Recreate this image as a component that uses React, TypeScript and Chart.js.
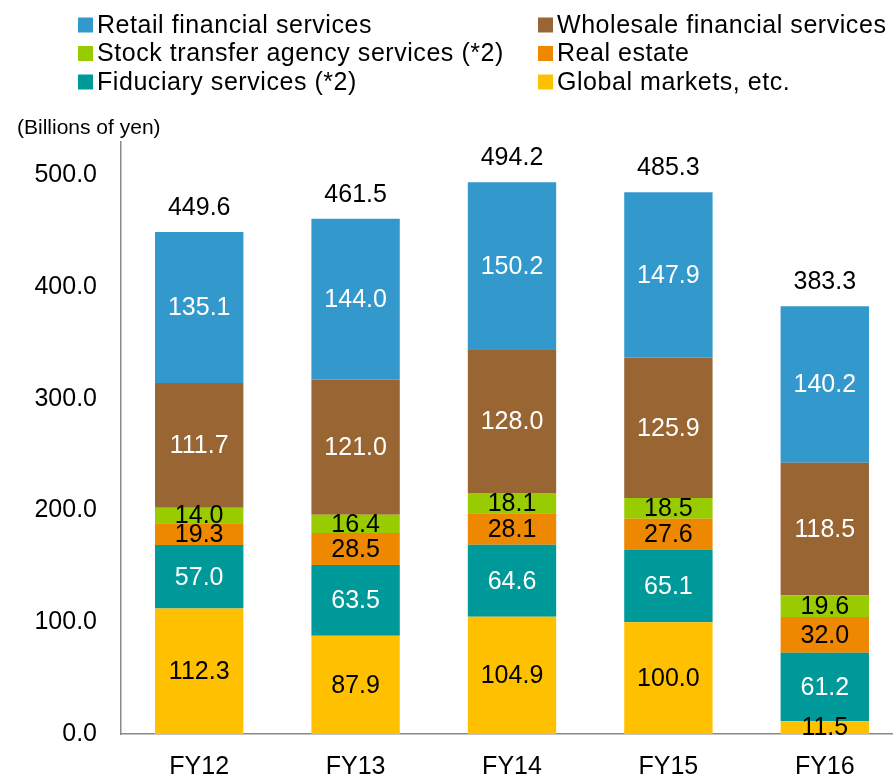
import React, { useEffect, useRef } from "react";
import { Chart, registerables } from "chart.js";

Chart.register(...registerables);

// ---------- data ----------
const categories = ["FY12", "FY13", "FY14", "FY15", "FY16"];
const globalMarkets = [112.3, 87.9, 104.9, 100.0, 11.5];
const fiduciary = [57.0, 63.5, 64.6, 65.1, 61.2];
const realEstate = [19.3, 28.5, 28.1, 27.6, 32.0];
const stockTransfer = [14.0, 16.4, 18.1, 18.5, 19.6];
const wholesale = [111.7, 121.0, 128.0, 125.9, 118.5];
const retail = [135.1, 144.0, 150.2, 147.9, 140.2];
const totals = [449.6, 461.5, 494.2, 485.3, 383.3];
const yTicks = [0, 100, 200, 300, 400, 500];
const yMax = 530;
const unitLabel = "(Billions of yen)";

const FONT = "'Liberation Sans', Arial, sans-serif";

// stack order: bottom first
const series = [
  { label: "Global markets, etc.", data: globalMarkets, color: "#FFC000", text: "#000000" },
  { label: "Fiduciary services (*2)", data: fiduciary, color: "#009999", text: "#FFFFFF" },
  { label: "Real estate", data: realEstate, color: "#EE8800", text: "#000000" },
  { label: "Stock transfer agency services (*2)", data: stockTransfer, color: "#99CC00", text: "#000000" },
  { label: "Wholesale financial services", data: wholesale, color: "#996633", text: "#FFFFFF" },
  { label: "Retail financial services", data: retail, color: "#3399CC", text: "#FFFFFF" },
];

// legend grid (dataset indices): rows x columns
const legendGrid = [
  [5, 4],
  [3, 2],
  [1, 0],
];

const overlayPlugin = {
  id: "overlay",
  afterDraw(chart: any) {
    const ctx = chart.ctx as any;
    ctx.save();
    // legend
    const rowY = [17, 45.5, 74];
    const colBoxX = [70, 530];
    const colTextX = [89, 549];
    const box = 15;
    ctx.font = `25px ${FONT}`;
    ctx.textBaseline = "middle";
    ctx.textAlign = "left";
    legendGrid.forEach((row, r) => {
      row.forEach((di, c) => {
        const ds = chart.data.datasets[di];
        ctx.fillStyle = ds.backgroundColor;
        ctx.fillRect(colBoxX[c], rowY[r] - box / 2, box, box);
        ctx.fillStyle = "#000";
        ctx.letterSpacing = "0.55px";
        ctx.fillText(ds.label, colTextX[c], rowY[r] + 1);
        ctx.letterSpacing = "0px";
      });
    });

    // unit label
    ctx.font = `21px ${FONT}`;
    ctx.fillStyle = "#000";
    ctx.textAlign = "left";
    ctx.fillText(unitLabel, 9, 120);

    // segment labels
    ctx.font = `25px ${FONT}`;
    ctx.textAlign = "center";
    ctx.textBaseline = "middle";
    chart.data.datasets.forEach((ds: any, di: number) => {
      const meta = chart.getDatasetMeta(di);
      meta.data.forEach((el: any, i: number) => {
        const v = ds.data[i];
        ctx.fillStyle = series[di].text;
        ctx.fillText(v.toFixed(1), el.x, (el.y + el.base) / 2 + 1);
      });
    });

    // totals
    const topMeta = chart.getDatasetMeta(chart.data.datasets.length - 1);
    ctx.fillStyle = "#000";
    topMeta.data.forEach((el: any, i: number) => {
      ctx.fillText(totals[i].toFixed(1), el.x, el.y - 24);
    });
    ctx.restore();
  },
};

export default function App() {
  const ref = useRef<HTMLCanvasElement>(null);
  useEffect(() => {
    Chart.defaults.font.family = FONT;
    Chart.defaults.color = "#000";
    const chart = new Chart(ref.current!, {
      type: "bar",
      data: {
        labels: categories,
        datasets: series.map((s) => ({
          label: s.label,
          data: s.data,
          backgroundColor: s.color,
          borderWidth: 0,
          barPercentage: 0.565,
          categoryPercentage: 1,
        })),
      },
      options: {
        responsive: false,
        animation: false,
        devicePixelRatio: 1,
        layout: { padding: { top: 134, left: 0, right: 0, bottom: 0 } },
        plugins: {
          legend: { display: false },
          tooltip: { enabled: false },
          title: { display: false },
        },
        scales: {
          x: {
            stacked: true,
            grid: { display: false, drawTicks: false },
            border: { display: true, color: "#8a8a8a", width: 1.5 },
            ticks: { font: { size: 25, family: FONT }, color: "#000", padding: 18, maxRotation: 0 },
            afterFit: (scale: any) => {
              scale.height = 45;
            },
          },
          y: {
            stacked: true,
            min: 0,
            max: yMax,
            grid: { display: false, drawTicks: false },
            border: { display: true, color: "#8a8a8a", width: 1.5 },
            ticks: {
              font: { size: 25, family: FONT },
              color: "#000",
              padding: 24,
              callback: (v: any) => Number(v).toFixed(1),
            },
            afterBuildTicks: (scale: any) => {
              scale.ticks = yTicks.map((v) => ({ value: v }));
            },
            afterFit: (scale: any) => {
              scale.width = 113;
            },
          },
        },
      },
      plugins: [overlayPlugin],
    });
    return () => chart.destroy();
  }, []);
  return (
    <div
      style={{
        position: "fixed",
        left: 0,
        top: 0,
        width: 893,
        height: 779,
        overflow: "hidden",
        background: "#fff",
      }}
    >
      <canvas
        ref={ref}
        width={895}
        height={771}
        style={{ display: "block", position: "absolute", left: 8, top: 8 }}
      />
    </div>
  );
}
